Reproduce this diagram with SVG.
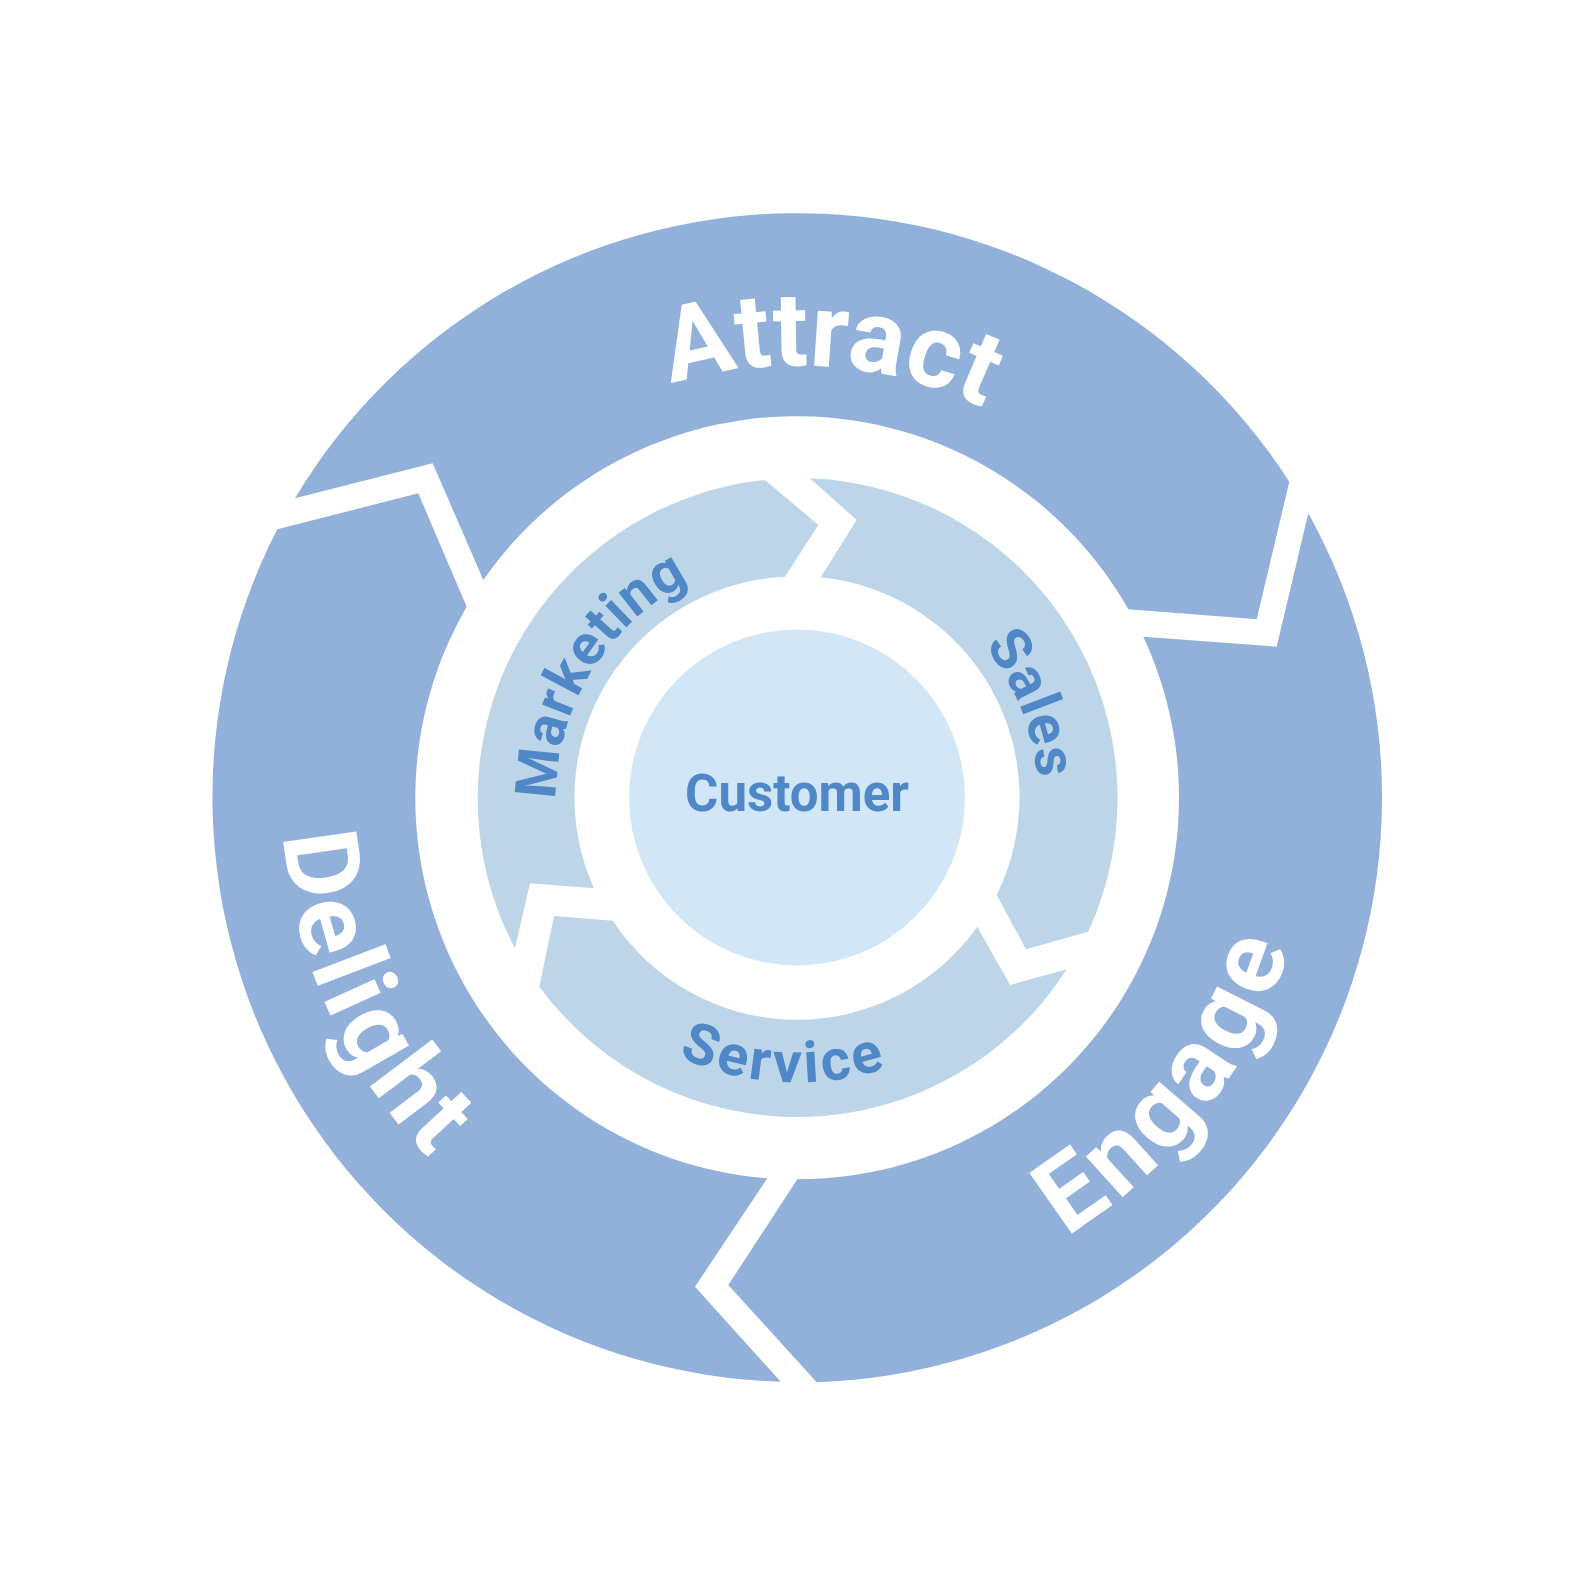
<svg xmlns="http://www.w3.org/2000/svg" width="1595" height="1596" viewBox="0 0 1595 1596">
<style>
.outer{fill:#91B1DB}
.mid{fill:#BDD5E8}
.core{fill:#D1E7F7}
.big{font-family:Roboto,"Liberation Sans",sans-serif;font-weight:700;font-size:104px;fill:#FFFFFF}
.spread{letter-spacing:5px}
.small{font-family:Roboto,"Liberation Sans",sans-serif;font-weight:700;font-size:57px;fill:#4F87C7;letter-spacing:1px}
.wide{letter-spacing:3.5px}
.center{font-family:Roboto,"Liberation Sans",sans-serif;font-weight:700;font-size:51px;fill:#4F87C7}
</style>
<defs>
<path id="pAttract" d="M378.4,690.8 A432,432 0 0 1 1226.9,754.6"/>
<path id="pEngage" d="M559.2,1254.3 A515,515 0 0 0 1176.7,449.6"/>
<path id="pDelight" d="M504.6,373.6 A515,515 0 0 0 926.8,1295.9"/>
<path id="pMarketing" d="M637,977.7 A241,241 0 0 1 885.7,573.4"/>
<path id="pSales" d="M748.1,561.5 A241,241 0 0 1 923.6,1002.5"/>
<path id="pService" d="M514.2,832.7 A285,285 0 0 0 1074.8,861.1"/>
</defs>
<rect width="1595" height="1596" fill="#FFFFFF"/>
<g id="attract">
<path class="outer" d="M295,498.3 L432.7,463.3 L483.3,580 A381.5,381.5 0 0 1 1128.3,609.3 L1256.7,619.3 L1289.3,481.7 A585,585 0 0 0 295,498.3 Z"/>
<text class="big" text-anchor="middle"><textPath href="#pAttract" startOffset="50%">Attract</textPath></text>
</g>
<g id="engage">
<path class="outer" d="M1308.3,513.3 L1276.7,646.7 L1143.3,636.7 A381.5,381.5 0 0 1 797.3,1179.3 L728.3,1285 L816.7,1382.3 A585,585 0 0 0 1308.3,513.3 Z"/>
<text class="big spread" text-anchor="middle"><textPath href="#pEngage" startOffset="50%">Engage</textPath></text>
</g>
<g id="delight">
<path class="outer" d="M780.7,1381.7 L695,1286.7 L767.3,1178.3 A381.5,381.5 0 0 1 466.7,606.7 L418.3,493.3 L277.3,529.3 A585,585 0 0 0 780.7,1381.7 Z"/>
<text class="big spread" text-anchor="middle"><textPath href="#pDelight" startOffset="50%">Delight</textPath></text>
</g>
<g id="marketing">
<path class="mid" d="M515,948.3 L530,883.3 L594,888.3 A221,221 0 0 1 785,576.7 L818.3,525 L765,480 A320,320 0 0 0 515,948.3 Z"/>
<text class="small" text-anchor="middle"><textPath href="#pMarketing" startOffset="50%">Marketing</textPath></text>
</g>
<g id="sales">
<path class="mid" d="M810,478.3 L856.7,520 L820.7,577.3 A221,221 0 0 1 996.7,895 L1026,949.3 L1088.3,931.7 A320,320 0 0 0 810,478.3 Z"/>
<text class="small" text-anchor="middle"><textPath href="#pSales" startOffset="50%">Sales</textPath></text>
</g>
<g id="service">
<path class="mid" d="M1066.7,969.3 L1010,985 L977.3,926.7 A221,221 0 0 1 612.7,920.7 L554,916 L539.3,986.7 A320,320 0 0 0 1066.7,969.3 Z"/>
<text class="small wide" text-anchor="middle"><textPath href="#pService" startOffset="50%">Service</textPath></text>
</g>
<g id="customer">
<circle class="core" cx="797" cy="797.5" r="168"/>
<text class="center" x="797" y="811" text-anchor="middle">Customer</text>
</g>
<g id="connectors"></g>
</svg>
